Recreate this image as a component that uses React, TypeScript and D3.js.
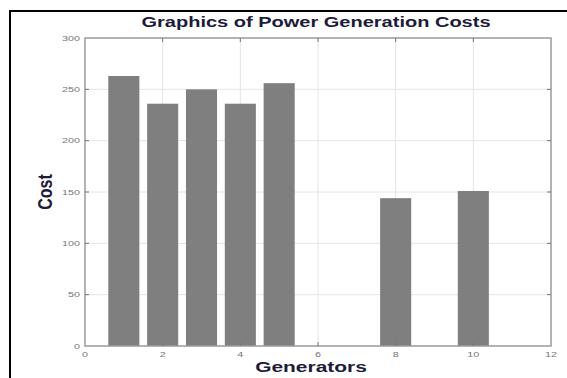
import { useEffect, useRef } from "react";
import * as d3 from "d3";

const W = 567;
const H = 378;
const M = { top: 38, right: 16, bottom: 32, left: 85 };
const IW = 551 - M.left;
const IH = 346 - M.top;
const SX = 1.35; // the source picture is stretched sideways

const generators = [1, 2, 3, 4, 5, 6, 7, 8, 9, 10];
const costs = [263, 236, 250, 236, 256, 0, 0, 144, 0, 151];
const xTicks = [0, 2, 4, 6, 8, 10, 12];
const yTicks = [0, 50, 100, 150, 200, 250, 300];

const TITLE = "Graphics of Power Generation Costs";
const FONT = "'Liberation Sans', Arial, sans-serif";

export default function App() {
  const svgRef = useRef<SVGSVGElement | null>(null);

  useEffect(() => {
    if (!svgRef.current) return;
    const svg = d3.select(svgRef.current);
    svg.selectAll("*").remove();

    const x = d3.scaleLinear().domain([0, 12]).range([0, IW]);
    const y = d3.scaleLinear().domain([0, 300]).range([IH, 0]);

    svg.append("rect").attr("width", W).attr("height", H).attr("fill", "#fff");

    // outer frame (runs off the right / bottom edge)
    svg.append("rect")
      .attr("x", 10).attr("y", 11).attr("width", W + 10).attr("height", H + 10)
      .attr("fill", "none").attr("stroke", "#000").attr("stroke-width", 2);

    const g = svg.append("g").attr("transform", `translate(${M.left},${M.top})`);

    // grid
    g.selectAll("line.gx").data(xTicks.slice(1, -1)).join("line")
      .attr("x1", d => x(d)).attr("x2", d => x(d))
      .attr("y1", 0).attr("y2", IH)
      .attr("stroke", "#e4e4e4").attr("stroke-width", 1);
    g.selectAll("line.gy").data(yTicks.slice(1, -1)).join("line")
      .attr("x1", 0).attr("x2", IW)
      .attr("y1", d => y(d)).attr("y2", d => y(d))
      .attr("stroke", "#e4e4e4").attr("stroke-width", 1);

    // bars
    const bw = x(0.8) - x(0);
    g.selectAll("rect.bar").data(generators).join("rect")
      .attr("x", (d) => x(d) - bw / 2)
      .attr("y", (_, i) => y(costs[i]))
      .attr("width", bw)
      .attr("height", (_, i) => IH - y(costs[i]))
      .attr("fill", "#7f7f7f");

    // box + inward ticks
    g.append("rect").attr("width", IW).attr("height", IH)
      .attr("fill", "none").attr("stroke", "#9a9a9a").attr("stroke-width", 1.5);

    const tk = 4;
    for (const t of xTicks.slice(1, -1)) {
      g.append("line").attr("x1", x(t)).attr("x2", x(t)).attr("y1", IH).attr("y2", IH - tk)
        .attr("stroke", "#777");
      g.append("line").attr("x1", x(t)).attr("x2", x(t)).attr("y1", 0).attr("y2", tk)
        .attr("stroke", "#777");
    }
    for (const t of yTicks.slice(1, -1)) {
      g.append("line").attr("x1", 0).attr("x2", tk).attr("y1", y(t)).attr("y2", y(t))
        .attr("stroke", "#777");
      g.append("line").attr("x1", IW).attr("x2", IW - tk).attr("y1", y(t)).attr("y2", y(t))
        .attr("stroke", "#777");
    }

    // tick labels
    g.selectAll("text.xt").data(xTicks).join("text")
      .attr("transform", d => `translate(${x(d)},${IH + 11}) scale(${SX},1)`)
      .attr("text-anchor", "middle")
      .attr("font-family", FONT).attr("font-size", 8).attr("fill", "#777")
      .text(d => d);
    g.selectAll("text.yt").data(yTicks).join("text")
      .attr("transform", d => `translate(-5,${y(d)}) scale(${SX},1)`)
      .attr("dy", "0.35em")
      .attr("text-anchor", "end")
      .attr("font-family", FONT).attr("font-size", 8).attr("fill", "#777")
      .text(d => d);

    // title & labels
    svg.append("text")
      .attr("transform", `translate(316,27) scale(1.38,1)`)
      .attr("text-anchor", "middle")
      .attr("font-family", FONT).attr("font-weight", "bold").attr("font-size", 14.5)
      .attr("fill", "#1c1c3a")
      .text(TITLE);

    svg.append("text")
      .attr("transform", `translate(311,372) scale(${SX},1)`)
      .attr("text-anchor", "middle")
      .attr("font-family", FONT).attr("font-weight", "bold").attr("font-size", 15.5)
      .attr("fill", "#1c1c3a")
      .text("Generators");

    svg.append("text")
      .attr("transform", "translate(52,192) rotate(-90) scale(0.8,1)")
      .attr("text-anchor", "middle")
      .attr("font-family", FONT).attr("font-weight", "bold").attr("font-size", 20)
      .attr("fill", "#1c1c3a")
      .text("Cost");
  }, []);

  return (
    <svg
      ref={svgRef}
      width={W}
      height={H}
      style={{ position: "absolute", left: 0, top: 0, display: "block" }}
    />
  );
}
